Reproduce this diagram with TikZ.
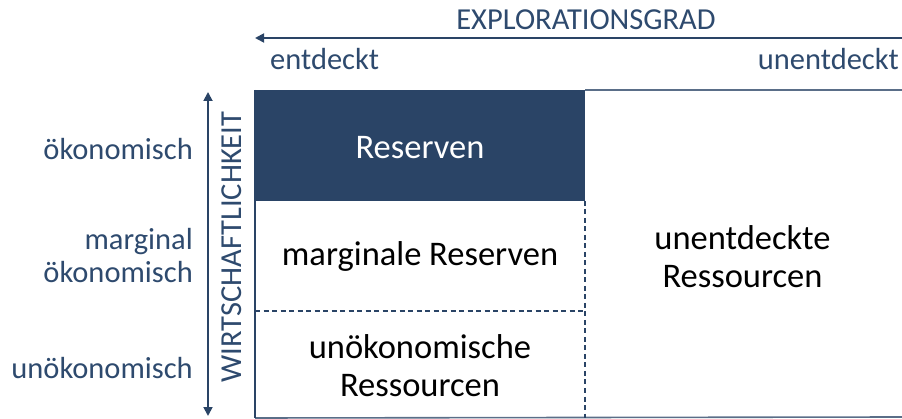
\documentclass[tikz,border=0pt]{standalone}
\usepackage{fontspec}
\setmainfont{Carlito}
\usetikzlibrary{arrows.meta}
\definecolor{navy}{HTML}{2A4466}
\definecolor{axistext}{HTML}{2E4A6E}
\definecolor{frame}{HTML}{5A6E88}
\begin{document}
\begin{tikzpicture}[x=1pt,y=-1pt,
  axislabel/.style={text=axistext,font=\fontsize{30.5}{33}\selectfont,inner sep=0pt},
  celltext/.style={text=black,font=\fontsize{34.5}{38}\selectfont,align=center,inner sep=0pt},
  cell/.style={inner sep=0pt,outer sep=0pt,anchor=north west},
  divider/.style={navy,line width=1.3pt,dash pattern=on 5pt off 3.5pt},
  axisarrow/.style={navy,line width=1.8pt,-{Triangle[length=9pt,width=9pt]}}]
\useasboundingbox (0,0) rectangle (902,419);
% cells of the classification grid
\node[cell,fill=navy,minimum width=330pt,minimum height=111pt] (res) at (255,90) {};
\node[cell,minimum width=330pt,minimum height=110pt] (mres) at (255,201) {};
\node[cell,minimum width=330pt,minimum height=107pt] (ures) at (255,311) {};
\node[cell,minimum width=317pt,minimum height=327pt] (undisc) at (585,90) {};
% cell texts
\node[celltext,text=white] at ([yshift=-2pt]res.center) {Reserven};
\node[celltext] at (mres.center) {marginale Reserven};
\node[celltext] at ([yshift=-1pt]ures.center) {unökonomische\\Ressourcen};
\node[celltext] at ([yshift=-3pt,xshift=-1pt]undisc.center) {unentdeckte\\Ressourcen};
% frame and dividers
\draw[frame,line width=1.6pt] (res.north east) -- (undisc.north east);
\draw[frame,line width=1.6pt] (ures.south west) -- (undisc.south east);
\draw[navy,line width=2pt] (res.north west) -- (ures.south west);
\draw[divider] (mres.south west) -- (mres.south east);
\draw[divider] (res.south east) -- (ures.south east);
% exploration axis
\coordinate (xr) at (902,38);
\coordinate (xl) at (255,38);
\draw[axisarrow] (xr) -- (xl);
\node[axislabel] (xlab) at (586,20) {EXPLORATIONSGRAD};
\node[axislabel,anchor=west] (disc) at (270,59) {entdeckt};
\node[axislabel,anchor=east] (ndisc) at (899,59) {unentdeckt};
% economic axis
\coordinate (yt) at (208,92);
\coordinate (yb) at (208,416);
\draw[axisarrow,{Triangle[length=9pt,width=9pt]}-{Triangle[length=9pt,width=9pt]}] (yt) -- (yb);
\node[axislabel,rotate=90] (ylab) at (232,247) {WIRTSCHAFTLICHKEIT};
\node[axislabel,anchor=east] (eco) at (193,149) {ökonomisch};
\node[axislabel,anchor=east,align=right] (meco) at (193,256) {marginal\\ökonomisch};
\node[axislabel,anchor=east] (neco) at (193,368) {unökonomisch};
\end{tikzpicture}
\end{document}
